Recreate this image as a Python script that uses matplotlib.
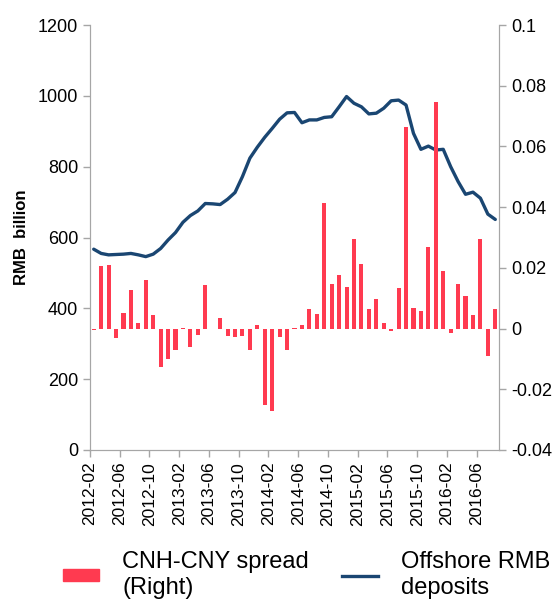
import matplotlib.pyplot as plt
from matplotlib.patches import Patch
from matplotlib.lines import Line2D
import numpy as np

plt.rcParams['font.family'] = ['Liberation Sans', 'DejaVu Sans']

# monthly, 2012-02 .. 2016-08
months = [f"{2012 + (1 + i) // 12}-{(1 + i) % 12 + 1:02d}" for i in range(55)]

deposits = [567, 555, 551, 552, 553, 555, 551, 546, 553, 569,
            593, 614, 643, 662, 675, 696, 695, 693, 708, 727,
            772, 824, 855, 883, 908, 934, 952, 953, 924, 932,
            932, 939, 941, 969, 998, 979, 969, 949, 951, 965,
            986, 988, 974, 894, 849, 858, 847, 849, 800, 758,
            722, 728, 711, 666, 651]

spread = [-0.0005, 0.0206, 0.021, -0.003, 0.005, 0.0126, 0.002, 0.0159, 0.0044, -0.0125,
          -0.0099, -0.0069, 0.0003, -0.006, -0.002, 0.0145, -0.0003, 0.0036, -0.0025, -0.0029,
          -0.0025, -0.0072, 0.0012, -0.0252, -0.027, -0.0029, -0.0069, 0.0002, 0.0012, 0.0063,
          0.0047, 0.0414, 0.0148, 0.0177, 0.0138, 0.0296, 0.0212, 0.0063, 0.0097, 0.0017,
          -0.0007, 0.0135, 0.0663, 0.0068, 0.0059, 0.027, 0.0745, 0.0191, -0.0013, 0.0148,
          0.0106, 0.0045, 0.0294, -0.009, 0.0066]

red = '#FF3A50'
blue = '#1A4672'
grey = '#A6A6A6'

x = np.arange(len(months))

fig = plt.figure(figsize=(5.6, 5.99), dpi=100)
ax = fig.add_axes([90 / 560, 149 / 599, 409 / 560, 425 / 599])
ax2 = ax.twinx()

ax.plot(x, deposits, color=blue, lw=2.4, solid_capstyle='round', zorder=3)
ax2.bar(x, spread, width=0.55, color=red, zorder=2)

ax.set_xlim(-0.5, len(x) - 0.5)
ax.set_ylim(0, 1200)
ax.set_yticks(range(0, 1201, 200))
ax2.set_ylim(-0.04, 0.1)
ax2.set_yticks([-0.04, -0.02, 0, 0.02, 0.04, 0.06, 0.08, 0.1])
ax2.set_yticklabels(['-0.04', '-0.02', '0', '0.02', '0.04', '0.06', '0.08', '0.1'])

tick_pos = x[::4] - 0.5
ax.set_xticks(tick_pos)
ax.set_xticklabels(months[::4], rotation=90, fontsize=12.5)

for a in (ax, ax2):
    a.spines['top'].set_visible(False)
    for s in ('left', 'right', 'bottom'):
        a.spines[s].set_color(grey)
    a.tick_params(colors=grey, labelcolor='black', length=5, width=1, labelsize=13)
ax.tick_params(axis='x', labelsize=12.5)
ax.set_ylabel('RMB  billion', fontsize=12, fontweight='bold', labelpad=6)

handles = [Patch(color=red), Line2D([], [], color=blue, lw=2.4)]
fig.legend(handles, ['CNH-CNY spread\n(Right)', 'Offshore RMB\ndeposits'],
           loc='lower center', bbox_to_anchor=(0.548, -0.035), ncol=2, frameon=False,
           fontsize=17, handlelength=1.5, handleheight=0.4, columnspacing=1.4,
           handletextpad=1.0)

fig.savefig('out.png', dpi=100)
